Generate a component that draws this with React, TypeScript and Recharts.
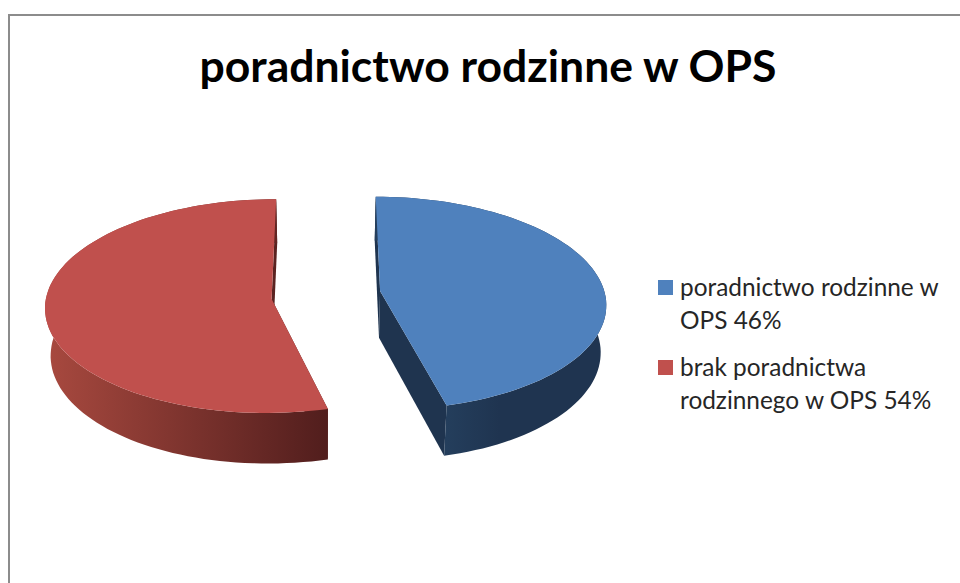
import { Cell, Legend, Pie, PieChart } from "recharts"

const categories = ["poradnictwo rodzinne w OPS", "brak poradnictwa rodzinnego w OPS"]
const shares = [46, 54]

const topColors = ["#4f81bd", "#c0504d"]
const wallStops = [
  ["#243e5c", "#1f3450"],
  ["#a8493f", "#521e1d"],
]
const wallEdgeColors = ["#1f344f", "#5a2321"]
const gradientRange = [
  [447, 500],
  [46, 325],
]

const chartData = categories.map((name, index) => ({ name, value: shares[index] }))

// look of the 3D pie, Recharts only knows a flat one
const TILT = 0.47
const PERSPECTIVE = 0.09
const EXPLODE_X = 0.243
const EXPLODE_V = 0.45
const APEX_SHIFT = 0.2
const DEPTH = 47
const DEPTH_PERSPECTIVE = 0.07
const DEPTH_SHRINK = 0.98

function Slice3D(props: any) {
  const { cx, cy, outerRadius, startAngle, endAngle, index } = props
  const rad = (deg: number) => (deg * Math.PI) / 180
  const mid = rad((startAngle + endAngle) / 2)
  const x0 = EXPLODE_X * Math.cos(mid)
  const v0 = EXPLODE_V * EXPLODE_X * Math.sin(mid)

  const project = (u: number, v: number) => {
    const X = x0 + u
    const V = v0 + v
    const w = 1 + PERSPECTIVE * V
    const x = cx + (outerRadius * X) / w
    const y = cy - (outerRadius * TILT * V) / w
    return {
      top: [x, y],
      bottom: [cx + (x - cx) * DEPTH_SHRINK, y + DEPTH / (1 + DEPTH_PERSPECTIVE * V)],
    }
  }

  const arc = []
  const steps = Math.ceil(Math.abs(startAngle - endAngle) / 2)
  for (let i = 0; i <= steps; i++) {
    const a = rad(startAngle + ((endAngle - startAngle) * i) / steps)
    arc.push(project(Math.cos(a), Math.sin(a)))
  }
  const apex = project(0, APEX_SHIFT * Math.sin(mid))
  const first = arc[0]
  const last = arc[arc.length - 1]

  const toPath = (pts: number[][]) =>
    "M" + pts.map((p) => `${p[0].toFixed(1)},${p[1].toFixed(1)}`).join("L") + "Z"

  const gradientId = `wall-${index}`
  return (
    <g>
      <defs>
        <linearGradient
          id={gradientId}
          gradientUnits="userSpaceOnUse"
          x1={gradientRange[index][0]}
          x2={gradientRange[index][1]}
          y1={0}
          y2={0}
        >
          <stop offset="0%" stopColor={wallStops[index][0]} />
          <stop offset="100%" stopColor={wallStops[index][1]} />
        </linearGradient>
      </defs>
      <path
        d={toPath([apex.top, first.top, first.bottom, apex.bottom])}
        fill={wallEdgeColors[index]}
      />
      <path
        d={toPath([apex.top, last.top, last.bottom, apex.bottom])}
        fill={wallEdgeColors[index]}
      />
      <path
        d={toPath([...arc.map((p) => p.top), ...arc.map((p) => p.bottom).reverse()])}
        fill={`url(#${gradientId})`}
      />
      <path d={toPath([apex.top, ...arc.map((p) => p.top)])} fill={topColors[index]} />
    </g>
  )
}

function ChartLegend({ payload }: any) {
  return (
    <div style={{ fontFamily: "Lato", fontSize: 24.4, lineHeight: "32.5px", color: "#262626" }}>
      {(payload || []).map((item: any, index: number) => (
        <div key={item.value} style={{ position: "relative", paddingLeft: 22, marginBottom: 15 }}>
          <span
            style={{
              position: "absolute",
              left: 0,
              top: 9,
              width: 15,
              height: 15,
              background: topColors[index],
            }}
          />
          {`${item.value} ${shares[index]}%`}
        </div>
      ))}
    </div>
  )
}

export default function App() {
  return (
    <div style={{ position: "absolute", left: 0, top: 0, width: 960, height: 583, overflow: "hidden" }}>
      <div
        style={{
          position: "absolute",
          left: 8,
          top: 14,
          width: 960,
          height: 583,
          borderLeft: "2px solid #8c8c8c",
          borderTop: "2px solid #8c8c8c",
        }}
      />
      <PieChart width={960} height={583} margin={{ top: 0, right: 0, bottom: 0, left: 0 }}>
        <text
          x={488}
          y={82}
          textAnchor="middle"
          style={{ fontFamily: "Lato", fontWeight: 700, fontSize: 44.5, fill: "#000" }}
        >
          poradnictwo rodzinne w OPS
        </text>
        <Pie
          data={chartData}
          dataKey="value"
          nameKey="name"
          cx={326}
          cy={295}
          outerRadius={225}
          startAngle={90}
          endAngle={-270}
          stroke="none"
          isAnimationActive={false}
          shape={Slice3D}
        >
          {chartData.map((entry, index) => (
            <Cell key={entry.name} fill={topColors[index]} />
          ))}
        </Pie>
        <Legend
          layout="vertical"
          itemSorter={null}
          content={<ChartLegend />}
          wrapperStyle={{ position: "absolute", left: 658, top: 271, width: 298, bottom: "auto" }}
        />
      </PieChart>
    </div>
  )
}
